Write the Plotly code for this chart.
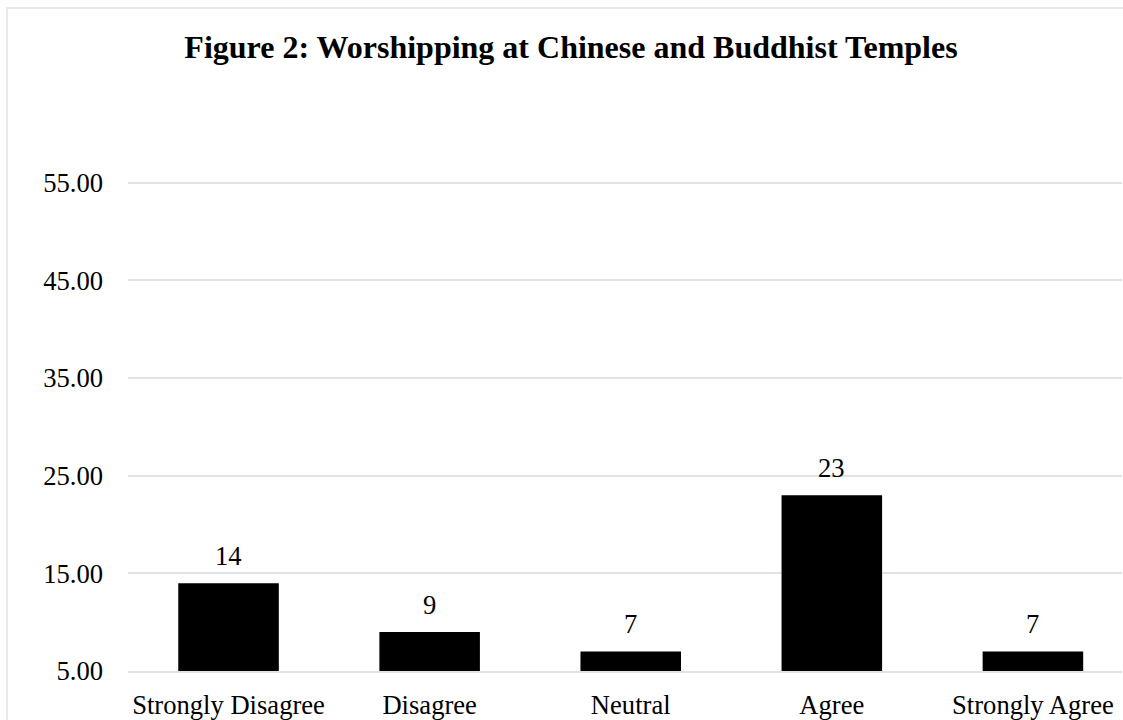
import plotly.graph_objects as go

# Survey responses: worshipping at Chinese and Buddhist temples
categories = ["Strongly Disagree", "Disagree", "Neutral", "Agree", "Strongly Agree"]
counts = [14, 9, 7, 23, 7]
y_ticks = [5, 15, 25, 35, 45, 55]

FONT = "Liberation Serif, Times New Roman, serif"
GRID = "#dfe3e8"
TEXT_SIZE = 26.6

fig = go.Figure()
fig.add_trace(go.Bar(
    x=categories,
    y=counts,
    base=0,
    width=0.5,
    marker=dict(color="black", line=dict(width=0)),
    hoverinfo="x+y",
))

# value labels above each bar
for cat, val in zip(categories, counts):
    fig.add_annotation(
        x=cat, y=val, text=str(val), showarrow=False,
        xanchor="center", yanchor="bottom", yshift=10,
        font=dict(family=FONT, size=TEXT_SIZE, color="black"),
    )

# light chart-area border
fig.add_shape(
    type="rect", xref="paper", yref="paper",
    x0=-0.1217, x1=1.05, y0=-0.2, y1=1.2346,
    line=dict(color=GRID, width=1.5), fillcolor="rgba(0,0,0,0)", layer="below",
)

fig.update_layout(
    width=1123, height=720,
    margin=dict(l=128, r=1, t=134, b=49),
    paper_bgcolor="white", plot_bgcolor="white",
    showlegend=False,
    font=dict(family=FONT, size=TEXT_SIZE, color="black"),
    title=dict(
        text="<b>Figure 2: Worshipping at Chinese and Buddhist Temples</b>",
        xref="container", yref="container",
        x=571 / 1123, xanchor="center",
        y=1 - 47 / 720, yanchor="middle",
        font=dict(family=FONT, size=32, color="black"),
    ),
    xaxis=dict(
        range=[-0.5, 4.443],
        showgrid=False, showline=True, linecolor=GRID, linewidth=1.5,
        ticks="", ticklabelstandoff=9,
        tickfont=dict(family=FONT, size=TEXT_SIZE, color="black"),
        fixedrange=True,
    ),
    yaxis=dict(
        range=[5, 60],
        tickvals=y_ticks, tickformat=".2f",
        showgrid=True, gridcolor=GRID, gridwidth=1.5,
        zeroline=False, showline=False,
        ticks="", ticklabelstandoff=24,
        tickfont=dict(family=FONT, size=TEXT_SIZE, color="black"),
        fixedrange=True,
    ),
)

fig.write_html("out.html")
